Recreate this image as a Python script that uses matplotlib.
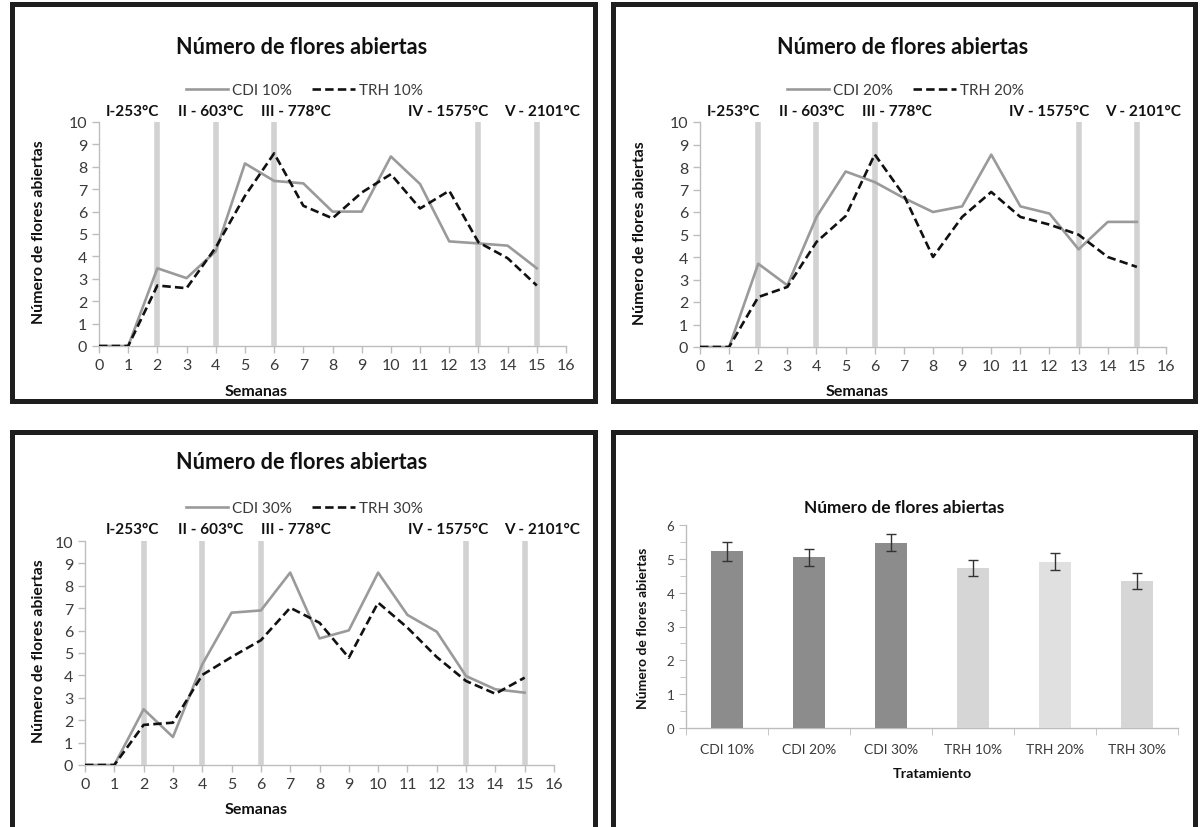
import matplotlib
matplotlib.use("Agg")
import matplotlib.pyplot as plt
from matplotlib.patches import Rectangle
import numpy as np

W, H = 1201, 828
plt.rcParams['font.family'] = ['Lato', 'DejaVu Sans']

# ---------------- data ----------------
weeks = list(range(16))
cdi_10 = [0, 0, 3.47, 3.03, 4.23, 8.15, 7.37, 7.26, 6.0, 6.0, 8.46, 7.23, 4.67, 4.58, 4.48, 3.47]
trh_10 = [0, 0, 2.70, 2.58, 4.40, 6.70, 8.60, 6.26, 5.70, 6.85, 7.67, 6.14, 6.93, 4.63, 3.92, 2.70]
cdi_20 = [0, 0, 3.70, 2.74, 5.78, 7.80, 7.33, 6.62, 6.0, 6.25, 8.55, 6.25, 5.93, 4.34, 5.56, 5.56]
trh_20 = [0, 0, 2.22, 2.67, 4.67, 5.82, 8.56, 6.74, 4.0, 5.78, 6.89, 5.78, 5.44, 4.99, 4.0, 3.56]
cdi_30 = [0, 0, 2.49, 1.25, 4.49, 6.80, 6.90, 8.59, 5.65, 6.01, 8.59, 6.70, 5.95, 3.97, 3.38, 3.23]
trh_30 = [0, 0, 1.79, 1.89, 4.02, 4.82, 5.57, 7.02, 6.35, 4.79, 7.25, 6.13, 4.82, 3.75, 3.18, 3.90]

phase_weeks = [2, 4, 6, 13, 15]
phase_labels = ["I-253°C", "II - 603°C", "III - 778°C", "IV - 1575°C", "V - 2101°C"]

treatments = ["CDI 10%", "CDI 20%", "CDI 30%", "TRH 10%", "TRH 20%", "TRH 30%"]
means = [5.22, 5.04, 5.48, 4.74, 4.92, 4.34]
errors = [0.27, 0.26, 0.25, 0.24, 0.26, 0.23]

title_txt = "Número de flores abiertas"

fig = plt.figure(figsize=(W / 100, H / 100), dpi=100)
fig.patch.set_facecolor("white")


def fx(x):
    return x / W


def fy(y):
    return 1 - y / H


def add_ax(x0, x1, y_top, y_bot):
    return fig.add_axes([fx(x0), fy(y_bot), (x1 - x0) / W, (y_bot - y_top) / H])


def frame(x0, x1, y0, y1):
    fig.patches.append(Rectangle((fx(x0), fy(y1)), (x1 - x0) / W, (y1 - y0) / H,
                                 transform=fig.transFigure, fill=False,
                                 edgecolor="#1e1e1e", linewidth=3.6, zorder=10))


def style_ax(ax):
    for s in ["top", "right"]:
        ax.spines[s].set_visible(False)
    for s in ["left", "bottom"]:
        ax.spines[s].set_color("#bdbdbd")
        ax.spines[s].set_linewidth(1.0)
    ax.tick_params(axis="both", which="both", color="#bdbdbd", direction="out",
                   labelcolor="#3a3a3a")


# frames
frame(12, 595, 5, 402)
frame(613, 1195, 5, 402)
frame(12, 595, 433, 835)
frame(613, 1195, 433, 835)

line_panels = [
    ((99, 566, 123, 347), 12, cdi_10, trh_10, ("CDI 10%", "TRH 10%"), 47, 91, 112, 392, 232),
    ((700, 1166, 123, 348), 613, cdi_20, trh_20, ("CDI 20%", "TRH 20%"), 47, 91, 112, 392, 233),
    ((85, 554, 542, 766), 12, cdi_30, trh_30, ("CDI 30%", "TRH 30%"), 463, 509, 530, 810, 651),
]

label_rel = [120, 199, 284, 436, 530]

for (x0, x1, yt, yb), fl, cdi, trh, names, ty, ly, py, xly, yly in line_panels:
    ax = add_ax(x0, x1, yt, yb)
    style_ax(ax)
    ax.set_xlim(0, 16)
    ax.set_ylim(0, 10)
    ax.set_xticks(range(17))
    ax.set_yticks(range(11))
    ax.tick_params(axis="both", labelsize=11.5, length=5, width=1.0)
    ax.vlines(phase_weeks, 0, 10, colors="#d2d2d2", linewidth=4.0, zorder=1)
    l1, = ax.plot(weeks, cdi, color="#9a9a9a", linewidth=1.9, zorder=3)
    l2, = ax.plot(weeks, trh, color="#111111", linewidth=1.9, linestyle=(0, (3.2, 1.6)), zorder=4)
    for s in ["left", "bottom"]:
        ax.spines[s].set_zorder(0.5)
    fig.text(fx(fl + 290), fy(ty), title_txt, ha="center", va="center",
             fontsize=15.6, fontweight="bold", color="#111111")
    fig.legend([l1, l2], list(names), loc="center", bbox_to_anchor=(fx(fl + 292), fy(ly)),
               ncol=2, frameon=False, fontsize=11, handlelength=2.8, columnspacing=1.3,
               handletextpad=0.25, labelcolor="#3a3a3a")
    for rel, lab in zip(label_rel, phase_labels):
        fig.text(fx(fl + rel), fy(py), lab, ha="center", va="center",
                 fontsize=11, fontweight="bold", color="#111111")
    fig.text(fx(fl + 244), fy(xly), "Semanas", ha="center", va="center",
             fontsize=11.5, fontweight="bold", color="#111111")
    fig.text(fx(fl + 27), fy(yly), "Número de flores abiertas", ha="center", va="center",
             rotation=90, fontsize=11.4, fontweight="bold", color="#111111")

# ---------------- bar panel ----------------
axb = add_ax(686, 1178, 526, 729)
style_ax(axb)
xpos = np.arange(len(treatments))
bar_colors = ["#8c8c8c", "#8c8c8c", "#8c8c8c", "#d6d6d6", "#e0e0e0", "#d6d6d6"]
axb.bar(xpos, means, width=0.39, color=bar_colors, zorder=2)
axb.errorbar(xpos, means, yerr=errors, fmt="none", ecolor="#333333", elinewidth=1.0,
             capsize=3.5, capthick=1.0, zorder=3)
axb.set_xlim(-0.5, len(treatments) - 0.5)
axb.set_ylim(0, 6)
axb.set_yticks(range(7))
axb.set_yticks(np.arange(0.5, 6, 1.0), minor=True)
axb.set_xticks(np.arange(-0.5, len(treatments)), minor=True)
axb.set_xticks(xpos)
axb.set_xticklabels(treatments)
axb.tick_params(axis="x", which="major", length=0, labelsize=10, pad=11)
axb.tick_params(axis="x", which="minor", length=5)
axb.tick_params(axis="y", which="major", length=5, labelsize=9.5)
axb.tick_params(axis="y", which="minor", length=4)
for s in ["left", "bottom"]:
    axb.spines[s].set_zorder(0.5)
fig.text(fx(904), fy(508), title_txt, ha="center", va="center",
         fontsize=12.4, fontweight="bold", color="#111111")
fig.text(fx(932), fy(774), "Tratamiento", ha="center", va="center",
         fontsize=10.4, fontweight="bold", color="#111111")
fig.text(fx(643), fy(628), "Número de flores abiertas", ha="center", va="center",
         rotation=90, fontsize=10, fontweight="bold", color="#111111")

fig.savefig("out.png", dpi=100, facecolor="white")
